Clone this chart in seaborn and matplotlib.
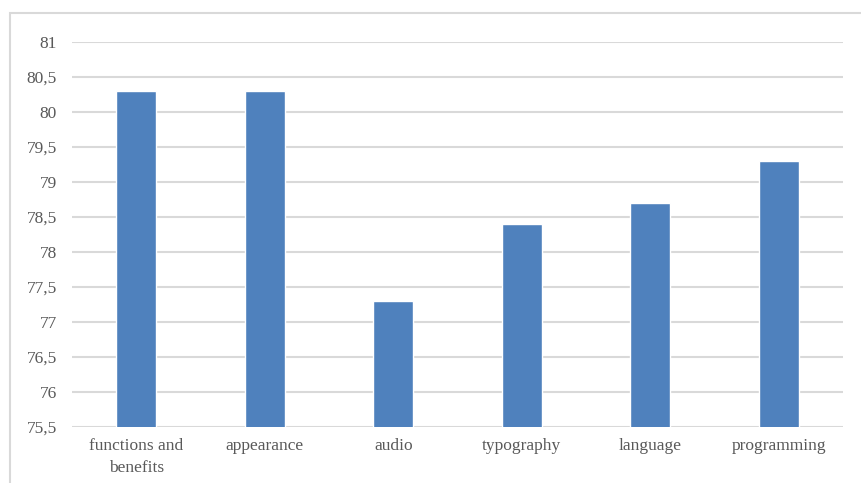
import matplotlib
matplotlib.use("Agg")
import matplotlib.pyplot as plt
from matplotlib.patches import Rectangle
from matplotlib.ticker import FuncFormatter, MultipleLocator
import seaborn as sns
import pandas as pd

categories = ["functions and\nbenefits", "appearance", "audio", "typography", "language", "programming"]
scores = [80.3, 80.3, 77.3, 78.4, 78.7, 79.3]

sns.set_theme(style="white")
plt.rcParams["font.family"] = ["Liberation Serif", "DejaVu Serif"]

df = pd.DataFrame({"category": categories, "score": scores})

fig = plt.figure(figsize=(8.61, 4.83), dpi=100)
ax = fig.add_axes([72 / 861, 1 - 427 / 483, (843 - 72) / 861, (427 - 42) / 483])

sns.barplot(data=df, x="category", y="score", color="#4F81BD", saturation=1,
            width=0.31, ax=ax, zorder=3)

ax.set_ylim(75.5, 81)
ax.yaxis.set_major_locator(MultipleLocator(0.5))
ax.yaxis.set_major_formatter(FuncFormatter(lambda v, _: f"{v:g}".replace(".", ",")))
ax.grid(axis="y", color="#D9D9D9", linewidth=1.5, zorder=0)
ax.set_axisbelow(True)
for s in ax.spines.values():
    s.set_visible(False)
ax.set_xlabel("")
ax.set_ylabel("")
ax.tick_params(axis="both", length=0, labelsize=12.5, labelcolor="#595959")
ax.tick_params(axis="y", pad=11)
ax.tick_params(axis="x", pad=8)
for lbl in ax.get_xticklabels():
    lbl.set_linespacing(1.45)

# chart area frame
fig.patches.append(Rectangle((10 / 861, -0.05), 1.0, 1 - 13 / 483 + 0.05,
                             transform=fig.transFigure, fill=False,
                             edgecolor="#D9D9D9", linewidth=1.5))

fig.savefig("out.png", dpi=100)
